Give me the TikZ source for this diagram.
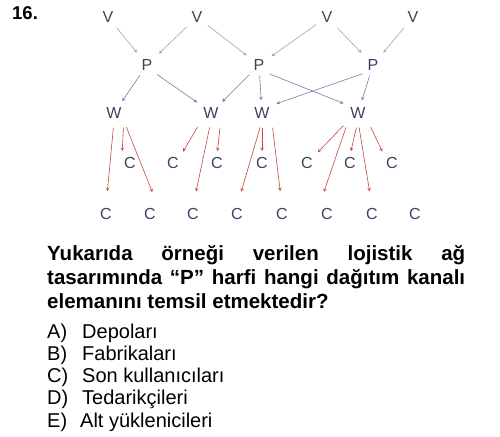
\documentclass[tikz,border=0pt]{standalone}
\usepackage{fontspec}
\setmainfont{Liberation Sans}
\usetikzlibrary{calc}

\definecolor{lettercol}{HTML}{3B4262}
\definecolor{supplycol}{HTML}{A3A5AD}
\definecolor{routecol}{HTML}{6E80AA}
\definecolor{delivcol}{HTML}{C4473D}

\begin{document}
\begin{tikzpicture}[x=1pt, y=-1pt,
    letter/.style={text=lettercol, font=\fontsize{16}{16}\selectfont, inner sep=2pt},
    supply/.style={draw=supplycol, line width=0.6pt, -stealth, shorten <=4pt, shorten >=6pt},
    route/.style={draw=routecol, line width=0.6pt, -stealth, shorten <=3pt, shorten >=5pt},
    delivery/.style={draw=delivcol, line width=0.6pt, -stealth, shorten <=7pt, shorten >=4pt},
    question/.style={inner sep=0pt, anchor=base west}]
        \useasboundingbox (0,0) rectangle (500,436);

        % Question number
        \node[question, font=\fontsize{18.5}{18.5}\selectfont\bfseries] (num) at (12,20) {16.};

        % Network levels
        \foreach \i/\x in {1/108, 2/197, 3/327, 4/413}
            \node[letter] (v\i) at (\x,17) {V};
        \foreach \i/\x in {1/147, 2/259, 3/373}
            \node[letter] (p\i) at (\x,65) {P};
        \foreach \i/\x in {1/114, 2/211, 3/262, 4/358}
            \node[letter] (w\i) at (\x,113) {W};
        \foreach \i/\x in {1/130, 2/173, 3/217, 4/262, 5/307, 6/350, 7/392}
            \node[letter] (ca\i) at (\x,163) {C}; % upper row
        \foreach \i/\x in {1/106, 2/150, 3/193, 4/237, 5/282, 6/327, 7/372, 8/415}
            \node[letter] (cb\i) at (\x,214) {C}; % lower row

        % V -> P
        \foreach \a/\b in {v1/p1, v2/p1, v2/p2, v3/p2, v3/p3, v4/p3}
            \draw[supply] (\a) -- (\b);

        % P -> W
        \foreach \a/\b in {p1/w1, p2/w2, p2/w3, p3/w4}
            \draw[route] (\a) -- (\b);
        \draw[route] (p1.south east) -- (w2.north west);
        \draw[route] (p2.south east) -- (w4.north west);
        \draw[route] (p3.south west) -- (w3.north east);

        % W -> C, upper row
        \foreach \a/\b in {w1.south east/ca1.north west, w2.south west/ca2.north east,
                           w2.south east/ca3.north, w3.south/ca4.north,
                           w4.south west/ca5.north east, w4.south/ca6.north,
                           w4.south east/ca7.north west}
            \draw[delivery] (\a) -- (\b);
        % W -> C, lower row
        \foreach \a/\b in {w1.south/cb1.north, w1.south east/cb2.north east,
                           w2.south/cb3.north, w3.south/cb4.north,
                           w3.south east/cb5.north, w4.south west/cb6.north west,
                           w4.south/cb7.north}
            \draw[delivery, shorten >=15pt] (\a) -- (\b);

        % Question text
        \node[question, text width=418pt, align=justify,
              font=\fontsize{20.5}{24.3}\selectfont\bfseries] (text) at (47,260)
            {\tolerance=10000\hyphenpenalty=10000 Yukarıda örneği verilen lojistik ağ tasarımında “P” harfi hangi dağıtım kanalı elemanını temsil etmektedir?};

        % Choices
        \foreach \k/\lab/\y in {a/A)/338, b/B)/360, c/C)/382, d/D)/404, e/E)/427}
            \node[question, font=\fontsize{20}{20}\selectfont] (opt\k) at (47,\y) {\lab};
        \node[question, font=\fontsize{20}{20}\selectfont] (ta) at (82,338) {Depoları};
        \node[question, font=\fontsize{20}{20}\selectfont] (tb) at (82,360) {Fabrikaları};
        \node[question, font=\fontsize{20}{20}\selectfont] (tc) at (82,382) {Son kullanıcıları};
        \node[question, font=\fontsize{20}{20}\selectfont] (td) at (82,404) {Tedarikçileri};
        \node[question, font=\fontsize{20}{20}\selectfont] (te) at (80,427) {Alt yüklenicileri};
\end{tikzpicture}
\end{document}
